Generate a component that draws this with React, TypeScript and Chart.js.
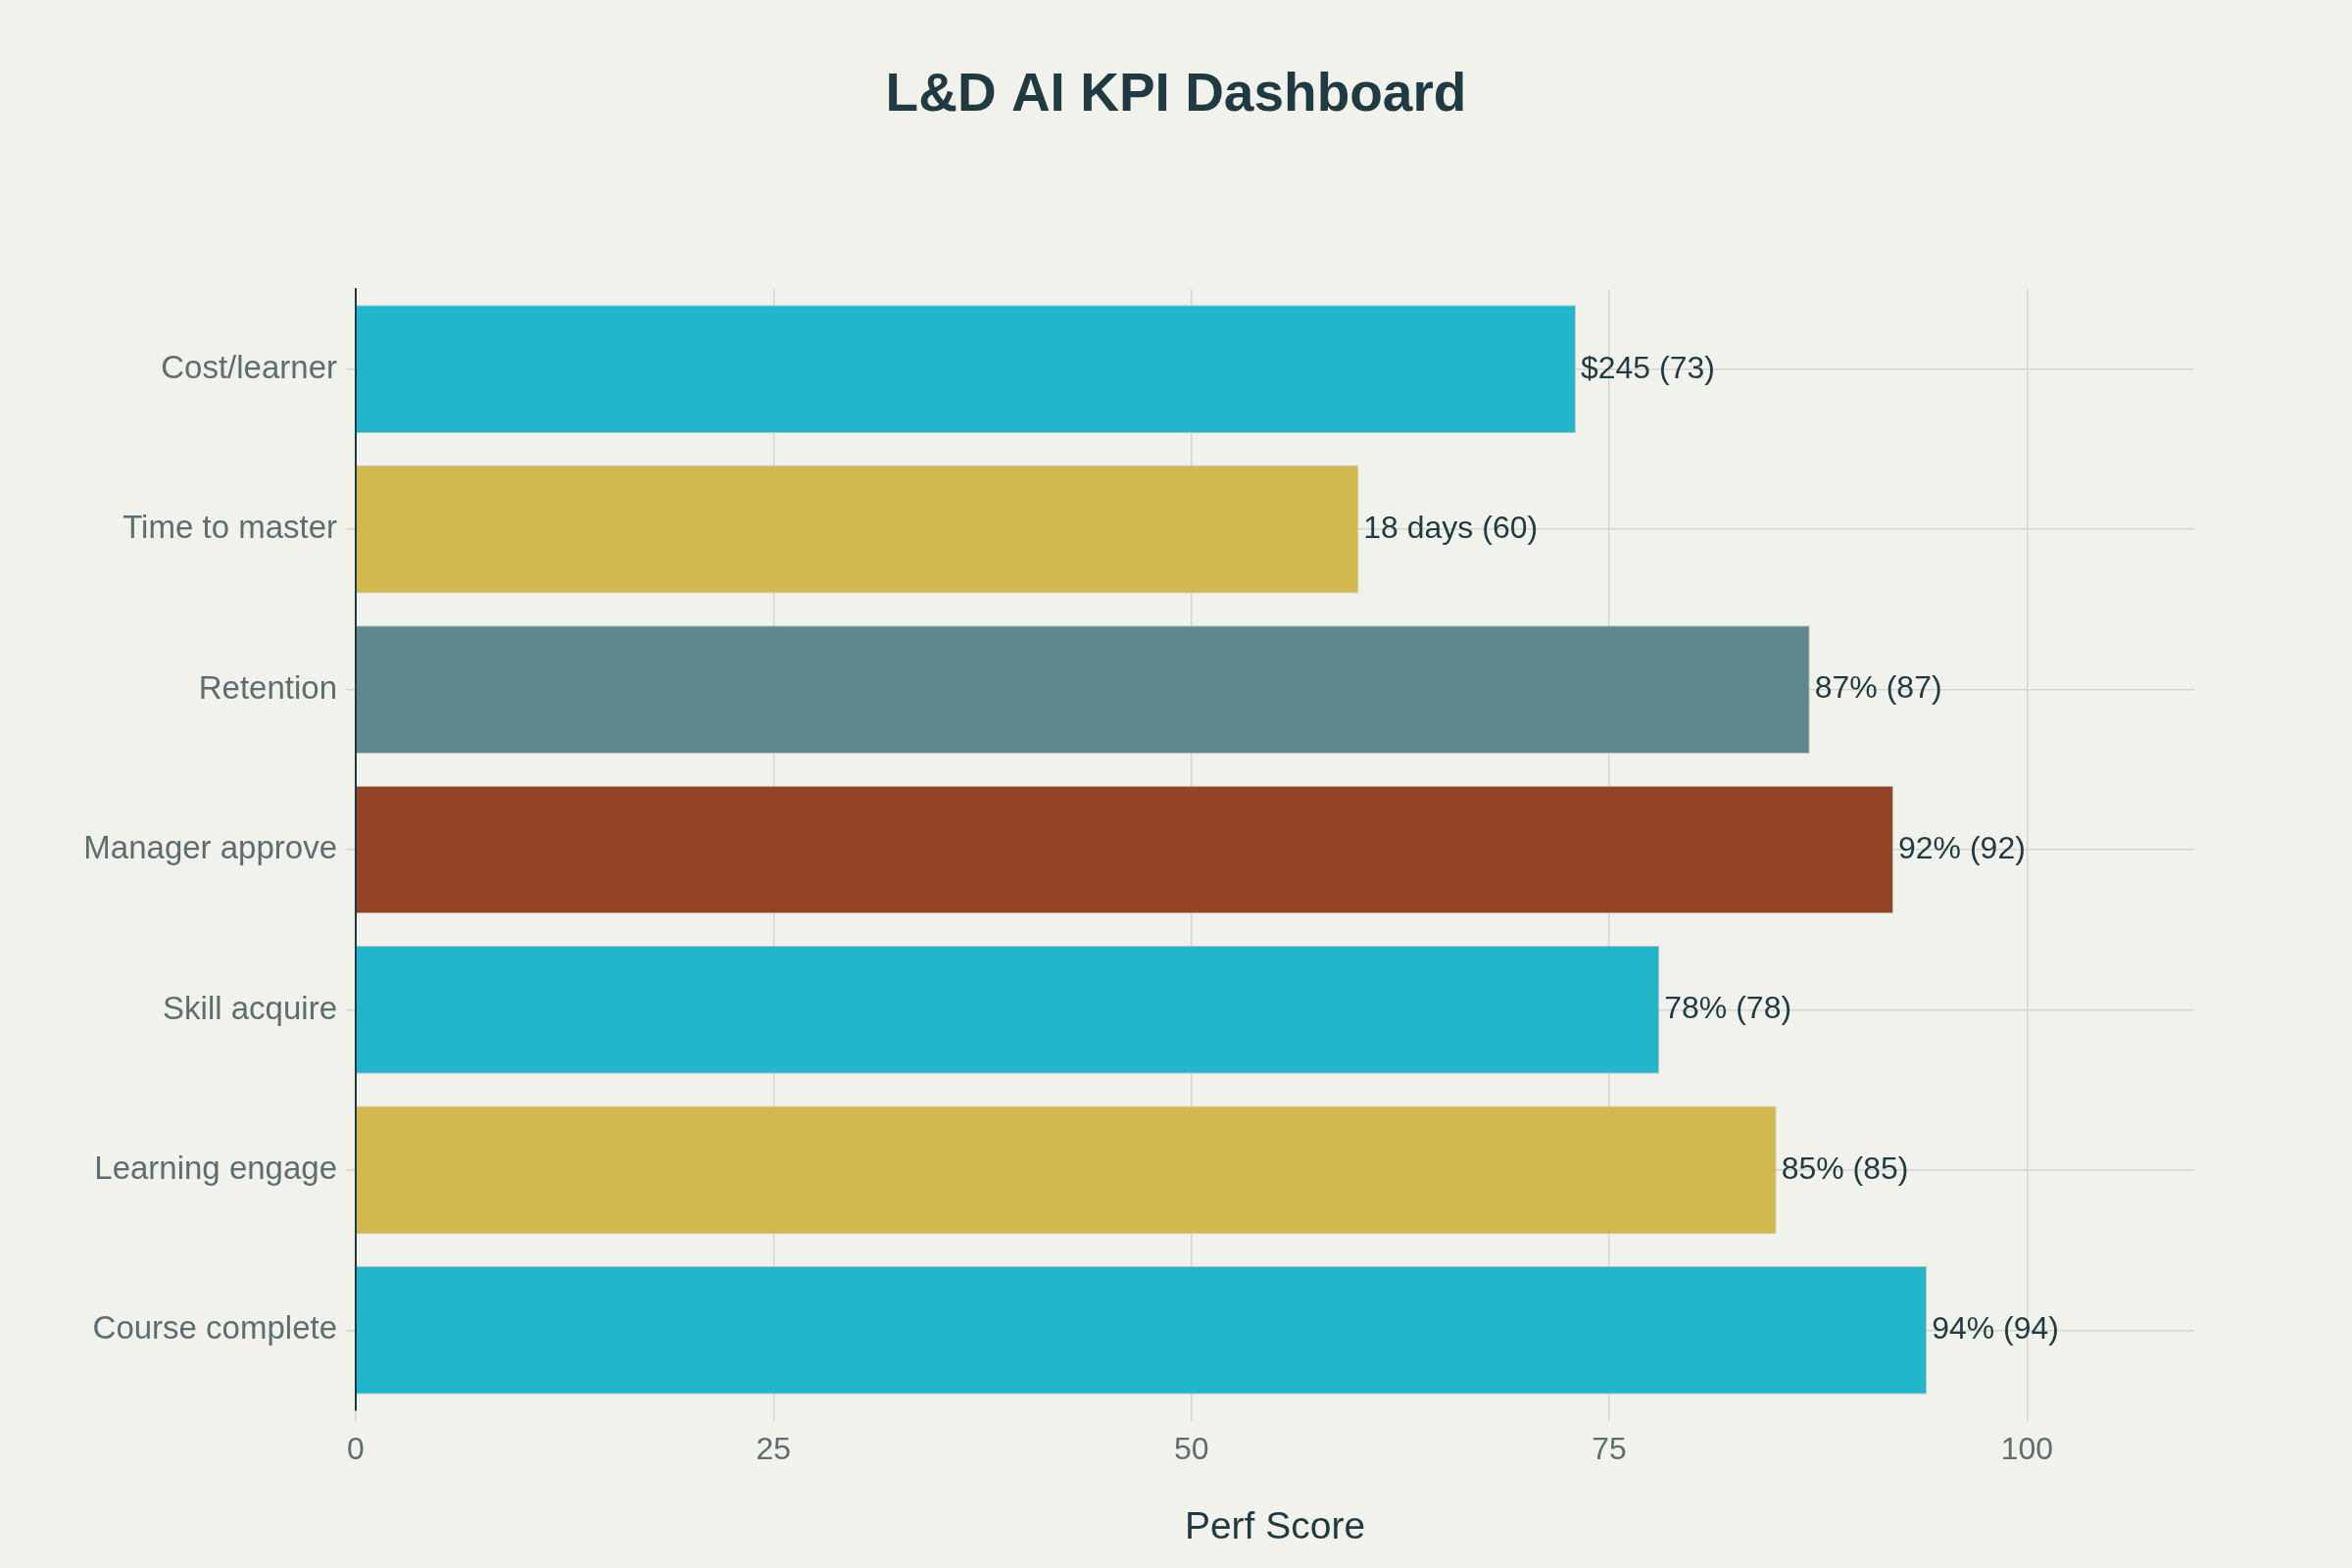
import React, { useEffect, useRef } from "react";
import { Chart, registerables } from "chart.js";

Chart.register(...registerables);

const categories = [
  "Cost/learner",
  "Time to master",
  "Retention",
  "Manager approve",
  "Skill acquire",
  "Learning engage",
  "Course complete",
];
const scores = [73, 60, 87, 92, 78, 85, 94];
const valueLabels = [
  "$245 (73)",
  "18 days (60)",
  "87% (87)",
  "92% (92)",
  "78% (78)",
  "85% (85)",
  "94% (94)",
];
const barColors = [
  "#21b6cc",
  "#d2b94d",
  "#5e878e",
  "#944426",
  "#21b6cc",
  "#d2b94d",
  "#21b6cc",
];
const xTicks = [0, 25, 50, 75, 100];
const titleText = "L&D AI KPI Dashboard";

const FONT = "'Liberation Sans', Arial, sans-serif";
const BG = "#f2f2ec";

const bgPlugin = {
  id: "bg",
  beforeDraw(chart: any) {
    const ctx = chart.ctx;
    ctx.save();
    ctx.fillStyle = BG;
    ctx.fillRect(0, 0, chart.width, chart.height);
    ctx.font = `bold 55px ${FONT}`;
    ctx.fillStyle = "#1f3a40";
    ctx.textAlign = "center";
    ctx.textBaseline = "middle";
    ctx.fillText(titleText, chart.width / 2, 98);
    ctx.restore();
  },
};

const labelPlugin = {
  id: "valueLabels",
  afterDatasetsDraw(chart: any) {
    const ctx = chart.ctx;
    const meta = chart.getDatasetMeta(0);
    ctx.save();
    ctx.font = `32px ${FONT}`;
    ctx.fillStyle = "#1f3a40";
    ctx.textAlign = "left";
    ctx.textBaseline = "middle";
    meta.data.forEach((bar: any, i: number) => {
      ctx.fillText(valueLabels[i], bar.x + 5, bar.y);
    });
    ctx.restore();
  },
};

export default function App() {
  const ref = useRef<HTMLCanvasElement | null>(null);
  useEffect(() => {
    if (!ref.current) return;
    const chart = new Chart(ref.current, {
      type: "bar",
      data: {
        labels: categories,
        datasets: [
          {
            data: scores,
            backgroundColor: barColors,
            borderColor: "rgba(190,190,180,0.9)",
            borderWidth: 1,
            barPercentage: 0.8,
            categoryPercentage: 1,
          },
        ],
      },
      options: {
        indexAxis: "y",
        responsive: false,
        animation: false,
        devicePixelRatio: 1,
        layout: { padding: { left: 0, right: 161, top: 295, bottom: 0 } },
        plugins: {
          legend: { display: false },
          tooltip: { enabled: false },
          title: { display: false },
        },
        scales: {
          x: {
            type: "linear",
            min: 0,
            max: 110,
            afterBuildTicks(scale: any) {
              scale.ticks = xTicks.map((v) => ({ value: v }));
            },
            afterFit(scale: any) {
              scale.height = 161;
            },
            ticks: {
              color: "#5d6e70",
              font: { family: FONT, size: 32 },
              padding: 10,
            },
            grid: {
              color: "#d5d5ce",
              lineWidth: 1.5,
              tickLength: 12,
              tickColor: "#d5d5ce",
            },
            border: { display: false },
            title: {
              display: true,
              text: "Perf Score",
              color: "#1f3a40",
              font: { family: FONT, size: 39, lineHeight: 1.2 },
              padding: { top: 0, bottom: 17 },
            },
          },
          y: {
            type: "category",
            afterFit(scale: any) {
              scale.width = 363;
            },
            ticks: {
              color: "#5d6e70",
              font: { family: FONT, size: 33 },
              padding: 9,
            },
            grid: {
              offset: false,
              color: "#d5d5ce",
              lineWidth: 1.5,
              tickLength: 10,
              tickColor: "#d5d5ce",
            },
            border: { display: true, color: "#1b3a40", width: 2 },
          },
        },
      },
      plugins: [bgPlugin, labelPlugin],
    } as any);
    return () => chart.destroy();
  }, []);
  return (
    <div style={{ position: "absolute", left: 0, top: 0, width: 2400, height: 1600, background: BG }}>
      <canvas ref={ref} width={2400} height={1600} style={{ width: 2400, height: 1600, display: "block" }} />
    </div>
  );
}
